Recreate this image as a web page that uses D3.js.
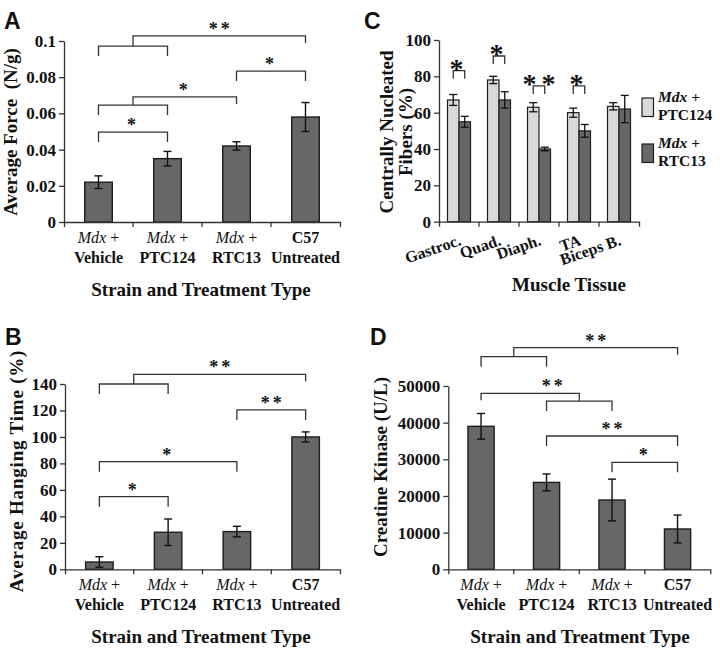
<!DOCTYPE html>
<html><head><meta charset="utf-8">
<script src="https://cdn.jsdelivr.net/npm/d3@7"></script>
<style>
body{margin:0;background:#fff}
svg{display:block}
text{font-family:"Liberation Serif","Times New Roman",serif;fill:#111}
</style>
</head><body>
<svg id="chart" width="720" height="650"></svg>
<script>
// ---------- DATA ----------
const groupLine1 = ["Mdx +", "Mdx +", "Mdx +", "C57"];
const groupLine2 = ["Vehicle", "PTC124", "RTC13", "Untreated"];

const forceMean = [0.022, 0.035, 0.042, 0.058];
const forceErr  = [0.0035, 0.004, 0.0023, 0.008];
const forceTicks = [0, 0.02, 0.04, 0.06, 0.08, 0.1];

const hangMean = [5.5, 28, 28.5, 100];
const hangErr  = [4, 10, 4, 3.8];
const hangTicks = [0, 20, 40, 60, 80, 100, 120, 140];

const ckMean = [39000, 23700, 18900, 11000];
const ckErr  = [3500, 2300, 5700, 3800];
const ckTicks = [0, 10000, 20000, 30000, 40000, 50000];

const tissues = ["Gastroc.", "Quad.", "Diaph.", "TA", "Biceps B."];
const seriesNames = ["PTC124", "RTC13"];
const nucPTC    = [67, 78, 63, 60, 63.5];
const nucPTCErr = [3, 2, 2.5, 2.5, 2];
const nucRTC    = [55, 67, 40, 50, 62];
const nucRTCErr = [3, 4.5, 1, 3.5, 7.5];
const nucTicks = [0, 20, 40, 60, 80, 100];

// significance brackets (heights in data units, ends as category indices)
const forceSig = [
  {l:[0,1], ly:0.0972, y:0.1028, r:[3], label:"**"},
  {l:[2], r:[3], y:0.0834, label:"*"},
  {l:[0,1], ly:0.0646, y:0.0691, r:[2], label:"*"},
  {l:[0], r:[1], y:0.0497, label:"*"}
];
const hangSig = [
  {l:[0,1], ly:140, y:147.3, r:[3], label:"**"},
  {l:[2], r:[3], y:120.4, label:"**"},
  {l:[0], r:[2], y:81.3, label:"*"},
  {l:[0], r:[1], y:54.9, label:"*"}
];
const ckSig = [
  {l:[0,1], ly:58000, y:60450, r:[3], label:"**"},
  {l:[0], r:[1,2], ry:45900, y:48000, label:"**", dx:22},
  {l:[1], r:[3], y:36360, label:"**"},
  {l:[2], r:[3], y:29190, label:"*"}
];
const nucSig = [
  {i:0, y:83.1, label:"*"},
  {i:1, y:91.2, label:"*"},
  {i:2, y:74.7, label:"**"},
  {i:3, y:74.7, label:"*"}
];

// ---------- DRAW ----------
const svg = d3.select("#chart");
svg.append("rect").attr("width",720).attr("height",650).attr("fill","#fff");

const DARK = "#676767", LIGHT = "#d9d9d9", EDGE = "#1e1e1e", AXIS = "#333";

function panelLetter(t, x, y){
  svg.append("text").attr("x",x).attr("y",y).text(t)
    .style("font-family","'Liberation Sans',Arial,sans-serif")
    .style("font-weight","bold").style("font-size","23px");
}

function yAxis(g, y, ticks, fmt, x0){
  const ax = g.append("g").attr("transform",`translate(${x0},0)`)
    .call(d3.axisLeft(y).tickValues(ticks).tickFormat(fmt).tickSize(5).tickSizeOuter(0).tickPadding(3));
  ax.attr("font-family",null);
  ax.select(".domain").attr("stroke",AXIS).attr("stroke-width",1.3);
  ax.selectAll(".tick line").attr("stroke",AXIS).attr("stroke-width",1.3);
  ax.selectAll(".tick text").style("font-family","'Liberation Serif',serif")
    .style("font-weight","bold").style("font-size","17px").attr("fill","#111");
}

function xAxis(g, x, yPos){
  const ax = g.append("g").attr("transform",`translate(0,${yPos})`)
    .call(d3.axisBottom(x).tickValues([]).tickSizeOuter(5));
  ax.select(".domain").attr("stroke",AXIS).attr("stroke-width",1.3);
  const dom = x.domain();
  const half = (x.step()-x.bandwidth())/2;
  g.append("g").selectAll("line").data(dom.slice(1)).join("line")
    .attr("x1",d=>x(d)-half).attr("x2",d=>x(d)-half)
    .attr("y1",yPos).attr("y2",yPos+5)
    .attr("stroke",AXIS).attr("stroke-width",1.3);
}

function drawBracket(g, x, y, b){
  const cx = i => x(i) + x.bandwidth()/2;
  const leg = 10, shortLeg = 7;
  const lines = [];
  function endX(side, subY){
    if (side.length === 2){
      const a = cx(side[0]), c = cx(side[1]);
      lines.push([[a, y(subY)+leg],[a, y(subY)],[c, y(subY)],[c, y(subY)+leg]]);
      return {x:(a+c)/2, bottom:y(subY)};
    }
    return {x:cx(side[0]), bottom:null};
  }
  const L = endX(b.l, b.ly), R = endX(b.r, b.ry);
  const ty = y(b.y);
  const compound = b.l.length===2 || b.r.length===2;
  const lb = L.bottom!==null ? L.bottom : ty + (compound ? shortLeg : leg);
  const rb = R.bottom!==null ? R.bottom : ty + (compound ? shortLeg : leg);
  lines.push([[L.x, lb],[L.x, ty],[R.x, ty],[R.x, rb]]);
  g.append("g").selectAll("path").data(lines).join("path")
    .attr("d", d3.line()).attr("fill","none").attr("stroke",AXIS).attr("stroke-width",1.3);
  g.append("text").attr("x",(L.x+R.x)/2 + (b.dx||0) + (b.label.length>1?1.5:0)).attr("y",ty-1)
    .attr("text-anchor","middle").text(b.label)
    .style("font-weight","bold").style("font-size","18px").style("letter-spacing","3px");
}

function barPanel(cfg){
  const g = svg.append("g");
  const idx = d3.range(cfg.mean.length);
  const x = d3.scaleBand().domain(idx).range([cfg.x0, cfg.x1]).paddingInner(0.6).paddingOuter(0.3);
  const y = d3.scaleLinear().domain([0, cfg.ticks[cfg.ticks.length-1]]).range([cfg.yBottom, cfg.yTop]);
  g.selectAll("rect.bar").data(idx).join("rect").attr("class","bar")
    .attr("x",i=>x(i)).attr("width",x.bandwidth())
    .attr("y",i=>y(cfg.mean[i])).attr("height",i=>y(0)-y(cfg.mean[i]))
    .attr("fill",DARK).attr("stroke",EDGE).attr("stroke-width",1.4);
  const eb = g.append("g").selectAll("g").data(idx).join("g");
  const c = i => x(i)+x.bandwidth()/2;
  eb.append("line").attr("x1",c).attr("x2",c)
    .attr("y1",i=>y(cfg.mean[i]-cfg.err[i])).attr("y2",i=>y(cfg.mean[i]+cfg.err[i]));
  eb.append("line").attr("x1",i=>c(i)-4).attr("x2",i=>c(i)+4)
    .attr("y1",i=>y(cfg.mean[i]+cfg.err[i])).attr("y2",i=>y(cfg.mean[i]+cfg.err[i]));
  eb.append("line").attr("x1",i=>c(i)-4).attr("x2",i=>c(i)+4)
    .attr("y1",i=>y(cfg.mean[i]-cfg.err[i])).attr("y2",i=>y(cfg.mean[i]-cfg.err[i]));
  eb.selectAll("line").attr("stroke","#111").attr("stroke-width",1.4);
  yAxis(g, y, cfg.ticks, cfg.fmt, cfg.x0);
  xAxis(g, x, cfg.yBottom);
  const lab = g.append("g").selectAll("g").data(idx).join("g");
  const t1 = lab.append("text").attr("x",c).attr("y",cfg.yBottom+21).attr("text-anchor","middle")
    .style("font-size","16px");
  t1.each(function(i){
    const s = d3.select(this);
    if (groupLine1[i].startsWith("Mdx")){
      s.append("tspan").text("Mdx").style("font-style","italic");
      s.append("tspan").text(groupLine1[i].slice(3));
    } else {
      s.text(groupLine1[i]).style("font-weight","bold");
    }
  });
  lab.append("text").attr("x",c).attr("y",cfg.yBottom+41).attr("text-anchor","middle")
    .style("font-size","16px").style("font-weight","bold").text(i=>groupLine2[i]);
  g.append("text").attr("x",cfg.titleX).attr("y",cfg.yBottom+74).attr("text-anchor","middle")
    .style("font-size","19px").style("font-weight","bold").text("Strain and Treatment Type");
  g.append("text").attr("transform",`translate(${cfg.ylx},${cfg.yly}) rotate(-90)`)
    .attr("text-anchor","middle").style("font-size","19px").style("font-weight","bold")
    .style("letter-spacing",(cfg.yls||0)+"px")
    .attr("xml:space","preserve").text(cfg.ylabel);
  cfg.sig.forEach(b => drawBracket(g, x, y, b));
}

const fmtNum = d => d===0 ? "0" : d3.format("~g")(d);

barPanel({x0:64, x1:340, yTop:41, yBottom:222, mean:forceMean, err:forceErr, ticks:forceTicks,
  fmt:fmtNum, sig:forceSig, ylabel:"Average Force  (N/g)", ylx:17, yly:132, titleX:201});
barPanel({x0:65, x1:340, yTop:384, yBottom:569.3, mean:hangMean, err:hangErr, ticks:hangTicks,
  fmt:fmtNum, sig:hangSig, ylabel:"Average Hanging Time (%)", ylx:23, yly:471, titleX:201, yls:0.8});
barPanel({x0:448.3, x1:710.3, yTop:386, yBottom:569.3, mean:ckMean, err:ckErr, ticks:ckTicks,
  fmt:d3.format("d"), sig:ckSig, ylabel:"Creatine Kinase (U/L)", ylx:387, yly:467, titleX:580});

// ---------- Panel C (grouped) ----------
(function(){
  const g = svg.append("g");
  const x0 = 439, x1 = 639, yTop = 40, yBottom = 221.7;
  const x = d3.scaleBand().domain(d3.range(tissues.length)).range([x0, x1]);
  const xs = d3.scaleBand().domain(seriesNames).range([0, x.bandwidth()]).paddingOuter(0.74);
  const y = d3.scaleLinear().domain([0, 100]).range([yBottom, yTop]);
  const series = [
    {name:"PTC124", mean:nucPTC, err:nucPTCErr, fill:LIGHT},
    {name:"RTC13",  mean:nucRTC, err:nucRTCErr, fill:DARK}
  ];
  series.forEach(s => {
    const idx = d3.range(tissues.length);
    g.append("g").selectAll("rect").data(idx).join("rect")
      .attr("x",i=>x(i)+xs(s.name)).attr("width",xs.bandwidth())
      .attr("y",i=>y(s.mean[i])).attr("height",i=>y(0)-y(s.mean[i]))
      .attr("fill",s.fill).attr("stroke",EDGE).attr("stroke-width",1.2);
    const c = i => x(i)+xs(s.name)+xs.bandwidth()/2;
    const eb = g.append("g").selectAll("g").data(idx).join("g");
    eb.append("line").attr("x1",c).attr("x2",c)
      .attr("y1",i=>y(s.mean[i]-s.err[i])).attr("y2",i=>y(s.mean[i]+s.err[i]));
    eb.append("line").attr("x1",i=>c(i)-4).attr("x2",i=>c(i)+4)
      .attr("y1",i=>y(s.mean[i]+s.err[i])).attr("y2",i=>y(s.mean[i]+s.err[i]));
    eb.append("line").attr("x1",i=>c(i)-4).attr("x2",i=>c(i)+4)
      .attr("y1",i=>y(s.mean[i]-s.err[i])).attr("y2",i=>y(s.mean[i]-s.err[i]));
    eb.selectAll("line").attr("stroke","#111").attr("stroke-width",1.3);
  });
  yAxis(g, y, nucTicks, d3.format("d"), x0);
  const ax = g.append("g").attr("transform",`translate(0,${yBottom})`)
    .call(d3.axisBottom(x).tickValues([]).tickSizeOuter(5));
  ax.select(".domain").attr("stroke",AXIS).attr("stroke-width",1.3);
  g.append("g").selectAll("line").data(d3.range(1,tissues.length)).join("line")
    .attr("x1",i=>x(i)).attr("x2",i=>x(i)).attr("y1",yBottom).attr("y2",yBottom+5)
    .attr("stroke",AXIS).attr("stroke-width",1.3);
  g.append("g").selectAll("text").data(d3.range(tissues.length)).join("text")
    .attr("transform",i=>`translate(${x(i)+x.bandwidth()/2+3},${yBottom+23}) rotate(-19)`)
    .attr("text-anchor","end").style("font-size","16px").style("font-weight","bold")
    .text(i=>tissues[i]);
  nucSig.forEach(b => {
    const a = x(b.i)+xs("PTC124")+xs.bandwidth()/2, c = x(b.i)+xs("RTC13")+xs.bandwidth()/2;
    const ty = y(b.y);
    g.append("path").attr("d", d3.line()([[a,ty+8],[a,ty],[c,ty],[c,ty+8]]))
      .attr("fill","none").attr("stroke",AXIS).attr("stroke-width",1.3);
    g.append("text").attr("x",(a+c)/2 + (b.label.length>1?2.5:0)).attr("y",ty+7).attr("text-anchor","middle")
      .style("font-size","28px").style("font-weight","bold").style("letter-spacing","5px").text(b.label);
  });
  g.append("text").attr("x",569).attr("y",291).attr("text-anchor","middle")
    .style("font-size","19px").style("font-weight","bold").text("Muscle Tissue");
  const yl = g.append("text").attr("transform","translate(393,132) rotate(-90)")
    .attr("text-anchor","middle").style("font-size","19px").style("font-weight","bold");
  yl.append("tspan").attr("x",0).attr("dy",0).text("Centrally Nucleated");
  yl.append("tspan").attr("x",0).attr("dy",19).text("Fibers (%)");
  const leg = g.append("g").selectAll("g").data(series).join("g")
    .attr("transform",(d,i)=>`translate(642,${98+i*46})`);
  leg.append("rect").attr("width",11.5).attr("height",18.5).attr("fill",d=>d.fill)
    .attr("stroke",EDGE).attr("stroke-width",1.2);
  const lt = leg.append("text").attr("x",16).attr("y",4).style("font-size","15.5px").style("font-weight","bold");
  lt.append("tspan").text("Mdx").style("font-style","italic");
  lt.append("tspan").text(" +");
  leg.append("text").attr("x",16).attr("y",22).style("font-size","15.5px").style("font-weight","bold")
    .text(d=>d.name);
})();

panelLetter("A", 4, 29);
panelLetter("B", 5, 345);
panelLetter("C", 364, 29);
panelLetter("D", 370, 345);
</script>
</body></html>
